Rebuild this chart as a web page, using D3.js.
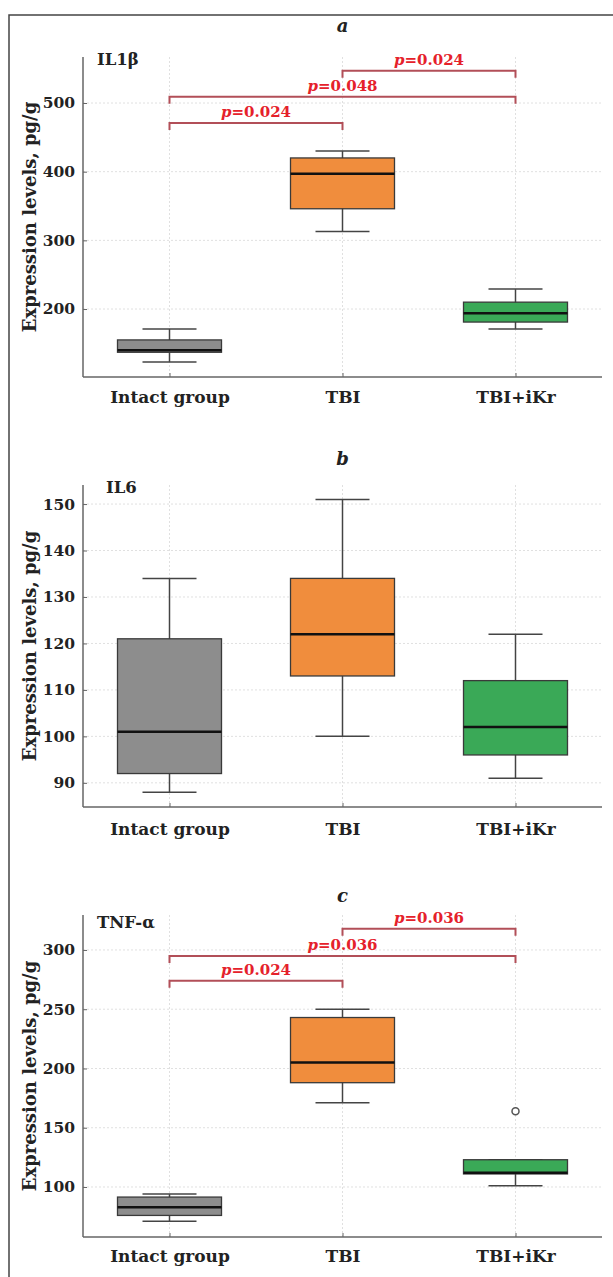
<!DOCTYPE html>
<html>
<head>
<meta charset="utf-8">
<style>
    body { margin: 0; background: #fff; }
    svg { display: block; background: #fff; }
    text { font-family: "DejaVu Serif", serif; font-weight: bold; fill: #222; }
</style>
<script src="https://cdn.jsdelivr.net/npm/d3@7"></script>
</head>
<body>
<div id="chart"></div>
<script>
// categories
var groups = ["Intact group", "TBI", "TBI+iKr"];
var colors = ["#8d8d8d", "#f08d3d", "#3aa957"];

// box stats per group: [min, q1, median, q3, max]
var il1bStats = [[123, 137, 140, 155, 171], [313, 346, 397, 420, 430], [171, 181, 194, 210, 229]];
var il6Stats  = [[88, 92, 101, 121, 134], [100, 113, 122, 134, 151], [91, 96, 102, 112, 122]];
var tnfStats  = [[71, 76, 83, 91.5, 94], [171, 188, 205, 243, 250], [101, 111, 112, 123, 123]];

// outliers [group index, value]
var tnfOutliers = [[2, 164]];

// tick labels
var il1bTicks = [200, 300, 400, 500];
var il6Ticks  = [90, 100, 110, 120, 130, 140, 150];
var tnfTicks  = [100, 150, 200, 250, 300];

// significance brackets [from, to, level, label]
var il1bBrackets = [[0, 1, 471, "0.024"], [0, 2, 509, "0.048"], [1, 2, 547, "0.024"]];
var tnfBrackets  = [[0, 1, 274, "0.024"], [0, 2, 295, "0.036"], [1, 2, 318, "0.036"]];

var W = 613, H = 1277;
var svg = d3.select("#chart").append("svg").attr("width", W).attr("height", H);

// outer frame (only top and left are inside the picture)
svg.append("rect").attr("x", 9).attr("y", 15).attr("width", 700).attr("height", 1400)
    .attr("fill", "none").attr("stroke", "#444").attr("stroke-width", 1.5);

var left = 83, right = 602;

function panel(o) {
    var y = d3.scaleLinear().domain(o.domain).range([o.top + o.h, o.top]);
    var x = d3.scalePoint().domain(groups).range([left, right]).padding(0.5);
    var g = svg.append("g");

    // grid
    g.selectAll(".hg").data(o.ticks).enter().append("line")
        .attr("x1", left).attr("x2", right)
        .attr("y1", function (d) { return y(d); }).attr("y2", function (d) { return y(d); })
        .attr("stroke", "#e0e0e0").attr("stroke-width", 1).attr("stroke-dasharray", "2,2");
    g.selectAll(".vg").data(groups).enter().append("line")
        .attr("x1", function (d) { return x(d); }).attr("x2", function (d) { return x(d); })
        .attr("y1", o.top).attr("y2", o.top + o.h)
        .attr("stroke", "#e0e0e0").attr("stroke-width", 1).attr("stroke-dasharray", "2,2");

    // axes
    var ya = d3.axisLeft(y).tickValues(o.ticks).tickSize(-4).tickPadding(8);
    var ay = g.append("g").attr("transform", "translate(" + left + ",0)").call(ya);
    ay.select(".domain").remove();
    ay.append("line").attr("x1", 0).attr("x2", 0).attr("y1", o.top).attr("y2", o.top + o.h)
        .attr("stroke", "#666").attr("stroke-width", 1.5);
    ay.selectAll(".tick line").attr("stroke", "#666");
    ay.selectAll(".tick text").style("font-family", "DejaVu Serif").style("font-weight", "bold")
        .style("font-size", "15.5px").attr("fill", "#222");

    var xa = d3.axisBottom(x).tickSize(-4).tickPadding(12);
    var ax = g.append("g").attr("transform", "translate(0," + (o.top + o.h) + ")").call(xa);
    ax.select(".domain").remove();
    ax.append("line").attr("x1", left).attr("x2", right).attr("stroke", "#666").attr("stroke-width", 1.5);
    ax.selectAll(".tick line").attr("stroke", "#666");
    ax.selectAll(".tick text").style("font-family", "DejaVu Serif").style("font-weight", "bold")
        .style("font-size", "17px").attr("fill", "#222").attr("dy", null).attr("y", o.labelY);

    // boxes
    var bw = 52, cw = 27;
    var box = g.selectAll(".box").data(o.stats).enter().append("g");
    box.append("line")
        .attr("x1", function (d, i) { return x(groups[i]); }).attr("x2", function (d, i) { return x(groups[i]); })
        .attr("y1", function (d) { return y(d[0]); }).attr("y2", function (d) { return y(d[4]); })
        .attr("stroke", "#444").attr("stroke-width", 1.5);
    [0, 4].forEach(function (k) {
        box.append("line")
            .attr("x1", function (d, i) { return x(groups[i]) - cw; }).attr("x2", function (d, i) { return x(groups[i]) + cw; })
            .attr("y1", function (d) { return y(d[k]); }).attr("y2", function (d) { return y(d[k]); })
            .attr("stroke", "#444").attr("stroke-width", 1.5);
    });
    box.append("rect")
        .attr("x", function (d, i) { return x(groups[i]) - bw; }).attr("width", bw * 2)
        .attr("y", function (d) { return y(d[3]); })
        .attr("height", function (d) { return Math.max(1, y(d[1]) - y(d[3])); })
        .attr("fill", function (d, i) { return colors[i]; })
        .attr("stroke", "#3a3a3a").attr("stroke-width", 1.3);
    box.append("line")
        .attr("x1", function (d, i) { return x(groups[i]) - bw; }).attr("x2", function (d, i) { return x(groups[i]) + bw; })
        .attr("y1", function (d) { return y(d[2]); }).attr("y2", function (d) { return y(d[2]); })
        .attr("stroke", "#111").attr("stroke-width", 2.5);

    if (o.outliers) {
        g.selectAll(".out").data(o.outliers).enter().append("circle")
            .attr("cx", function (d) { return x(groups[d[0]]); }).attr("cy", function (d) { return y(d[1]); })
            .attr("r", 3.5).attr("fill", "#fff").attr("stroke", "#555").attr("stroke-width", 1.5);
    }

    // brackets
    if (o.brackets) {
        var br = g.selectAll(".br").data(o.brackets).enter().append("g");
        br.append("path")
            .attr("d", function (d) {
                var x1 = x(groups[d[0]]), x2 = x(groups[d[1]]), yy = y(d[2]);
                return "M" + x1 + "," + (yy + 7) + "V" + yy + "H" + x2 + "V" + (yy + 7);
            })
            .attr("fill", "none").attr("stroke", "#b24f58").attr("stroke-width", 2);
        var t = br.append("text")
            .attr("x", function (d) { return (x(groups[d[0]]) + x(groups[d[1]])) / 2; })
            .attr("y", function (d) { return y(d[2]) - 6; })
            .attr("text-anchor", "middle").style("font-size", "15px").style("fill", "#e5212b");
        t.append("tspan").style("font-style", "italic").style("fill", "#e5212b").text("p");
        t.append("tspan").style("fill", "#e5212b").text(function (d) { return "=" + d[3]; });
    }

    // titles
    g.append("text").attr("x", x("TBI")).attr("y", o.titleY).attr("text-anchor", "middle")
        .style("font-style", "italic").style("font-size", "18px").text(o.letter);
    g.append("text").attr("x", o.nameX).attr("y", o.nameY).style("font-size", "16.5px").text(o.name);
    g.append("text").attr("transform", "translate(36," + (o.top + o.h / 2) + ") rotate(-90)")
        .attr("text-anchor", "middle").style("font-size", "18px").text("Expression levels, pg/g");
}

panel({ top: 57, h: 320, domain: [101, 567], ticks: il1bTicks, stats: il1bStats, brackets: il1bBrackets,
    letter: "a", titleY: 32, name: "IL1\u03b2", nameX: 97, nameY: 65, labelY: 26 });
panel({ top: 485, h: 322, domain: [84.8, 154.1], ticks: il6Ticks, stats: il6Stats,
    letter: "b", titleY: 465, name: "IL6", nameX: 106, nameY: 493, labelY: 28 });
panel({ top: 915, h: 322, domain: [57.8, 329.5], ticks: tnfTicks, stats: tnfStats, outliers: tnfOutliers,
    brackets: tnfBrackets, letter: "c", titleY: 902, name: "TNF-\u03b1", nameX: 97, nameY: 928, labelY: 25 });
</script>
</body>
</html>
